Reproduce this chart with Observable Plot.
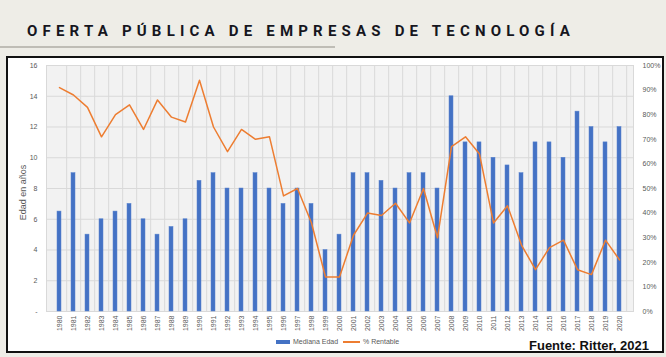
<!DOCTYPE html>
<html><head><meta charset="utf-8">
<script src="https://cdn.jsdelivr.net/npm/d3@7"></script>
<script src="https://cdn.jsdelivr.net/npm/@observablehq/plot@0.6"></script>
<style>
html,body{margin:0;padding:0}
body{width:666px;height:357px;background:#eeede7;position:relative;overflow:hidden;font-family:"Liberation Sans",Arial,sans-serif}
#title{position:absolute;left:27px;top:22px;font-family:Roboto,sans-serif;font-weight:bold;font-size:15px;letter-spacing:5.2px;color:#16161e;white-space:nowrap}
#rule{position:absolute;left:0;top:46px;width:335px;height:2px;background:#bfbdb6}
#frame{position:absolute;left:6px;top:56px;width:654px;height:293px;border:2px solid #111;background:#fff}
#chart{position:absolute;left:0;top:57px}
.lg{position:absolute;font-size:7px;color:#595959;white-space:nowrap;line-height:8px}
#source{position:absolute;left:529px;top:338px;font-weight:bold;font-size:13px;color:#111;white-space:nowrap}
</style></head>
<body>
<div id="title">OFERTA PÚBLICA DE EMPRESAS DE TECNOLOGÍA</div>
<div id="rule"></div>
<div id="frame"></div>
<div id="chart"></div>
<div style="position:absolute;left:276px;top:340px;width:14px;height:4px;background:#4472c4"></div>
<div class="lg" style="left:293px;top:338px">Mediana Edad</div>
<div style="position:absolute;left:343px;top:341px;width:17px;height:1.5px;background:#ed7d31"></div>
<div class="lg" style="left:363px;top:338px">% Rentable</div>
<div id="source">Fuente: Ritter, 2021</div>
<script>
const years = ["1980","1981","1982","1983","1984","1985","1986","1987","1988","1989","1990","1991","1992","1993","1994","1995","1996","1997","1998","1999","2000","2001","2002","2003","2004","2005","2006","2007","2008","2009","2010","2011","2012","2013","2014","2015","2016","2017","2018","2019","2020"];
const medianAge = [6.5,9,5,6,6.5,7,6,5,5.5,6,8.5,9,8,8,9,8,7,8,7,4,5,9,9,8.5,8,9,9,8,14,11,11,10,9.5,9,11,11,10,13,12,11,12];
const pctRentable = [91,88,83,71,80,84,74,86,79,77,94,75,65,74,70,71,47,50,36,14,14,31,40,39,44,36,50,30,67,71,64,36,43,27,17,26,29,17,15,29,21];
const ageTicks = [0,2,4,6,8,10,12,14,16];
const pctTicks = [0,10,20,30,40,50,60,70,80,90,100];
const ageMax = 16;

const data = years.map((y, i) => ({year: y, age: medianAge[i], pct: pctRentable[i]}));

const W = 666, ML = 46, MR = 33;
const step = (W - ML - MR) / years.length;
const grid = "#d9d9d9";

const chart = Plot.plot({
  width: W, height: 282,
  marginTop: 8, marginBottom: 28, marginLeft: ML, marginRight: MR,
  style: {fontFamily: "'Liberation Sans', Arial, sans-serif", fontSize: "7px", color: "#595959", background: "transparent", overflow: "visible"},
  x: {type: "band", domain: years, paddingInner: 0.68, paddingOuter: 0.34, label: null},
  y: {domain: [0, ageMax], label: null},
  marks: [
    Plot.frame({fill: "#f2f2f2", stroke: grid}),
    Plot.ruleY(ageTicks, {y: d => d, stroke: grid, strokeWidth: 1}),
    Plot.ruleX(years, {x: d => d, dx: step / 2, stroke: grid, strokeWidth: 1}),
    Plot.barY(data, {x: "year", y: "age", fill: "#4472c4", stroke: "#5b85d0", strokeWidth: 0.5}),
    Plot.lineY(data, {x: "year", y: d => d.pct * ageMax / 100, stroke: "#ed7d31", strokeWidth: 1.5}),
    Plot.axisY(ageTicks, {anchor: "left", tickSize: 0, tickPadding: 9, tickFormat: d => d === 0 ? "-" : String(d), label: null}),
    Plot.axisY(pctTicks.map(p => p * ageMax / 100), {anchor: "right", tickSize: 0, tickPadding: 9, tickFormat: d => Math.round(d / ageMax * 100) + "%", label: null}),
    Plot.axisX({tickRotate: -90, tickSize: 0, tickPadding: 4, label: null}),
    Plot.text(["Edad en años"], {frameAnchor: "left", dx: -23, dy: 4, rotate: -90, textAnchor: "middle", fontSize: 9, fill: "#595959"})
  ]
});
document.getElementById("chart").appendChild(chart);
</script>
</body></html>
